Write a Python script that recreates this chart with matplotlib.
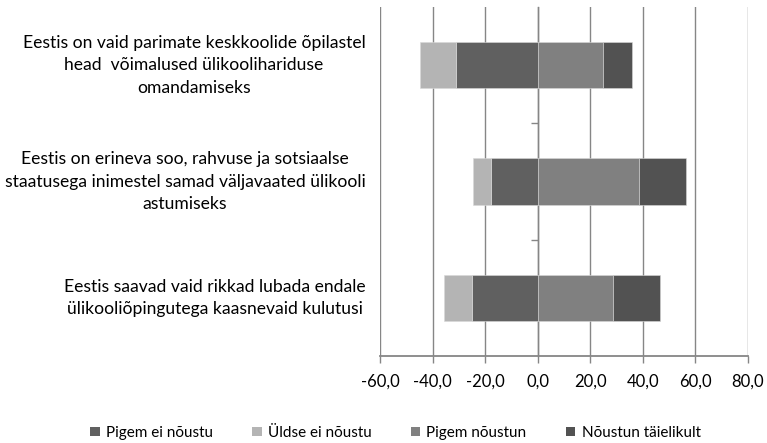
import numpy as np
import matplotlib
matplotlib.use("Agg")
import matplotlib.pyplot as plt
from matplotlib import transforms
from matplotlib.patches import Patch

plt.rcParams["font.family"] = ["Lato", "DejaVu Sans"]

# categories, top to bottom
categories = [
    "Eestis on vaid parimate keskkoolide õpilastel\nhead  võimalused ülikoolihariduse\nomandamiseks",
    "Eestis on erineva soo, rahvuse ja sotsiaalse\nstaatusega inimestel samad väljavaated ülikooli\nastumiseks",
    "Eestis saavad vaid rikkad lubada endale\nülikooliõpingutega kaasnevaid kulutusi",
]
pigem_ei = [31.1, 17.8, 25.1]
yldse_ei = [13.5, 6.7, 10.7]
pigem_noustun = [24.8, 38.7, 28.8]
taielikult = [11.0, 17.7, 17.6]
xticks = [-60, -40, -20, 0, 20, 40, 60, 80]
series_names = ["Pigem ei nõustu", "Üldse ei nõustu", "Pigem nõustun", "Nõustun täielikult"]
colors = ["#606060", "#b4b4b4", "#808080", "#525252"]

fig = plt.figure(figsize=(7.67, 4.43), dpi=100)
ax = fig.add_axes([380/767, 87/443, 368/767, 349/443])

ypos = np.arange(len(categories))[::-1] + 1
neg1 = -np.array(pigem_ei)
neg2 = -np.array(yldse_ei)
h = 0.4
ax.barh(ypos, neg1, height=h, color=colors[0], edgecolor="#d8d8d8", linewidth=0.4, zorder=3)
ax.barh(ypos, neg2, left=neg1, height=h, color=colors[1], edgecolor="#d8d8d8", linewidth=0.4, zorder=3)
ax.barh(ypos, pigem_noustun, height=h, color=colors[2], edgecolor="#d8d8d8", linewidth=0.4, zorder=3)
ax.barh(ypos, taielikult, left=pigem_noustun, height=h, color=colors[3], edgecolor="#d8d8d8", linewidth=0.4, zorder=3)

ax.set_xlim(-60, 80)
ax.set_ylim(0.5, 3.5)
ax.set_xticks(xticks)
ax.set_xticklabels(["{:.1f}".format(v).replace(".", ",") for v in xticks], fontsize=12)
ax.grid(axis="x", color="#868686", linewidth=1.0, zorder=0)

for s in ["top", "right"]:
    ax.spines[s].set_visible(False)
ax.spines["bottom"].set_color("#868686")
ax.spines["bottom"].set_linewidth(1.3)
ax.spines["left"].set_position(("data", 0))
ax.spines["left"].set_color("#868686")
ax.spines["left"].set_linewidth(1.0)
ax.set_yticks([1.5, 2.5])
ax.set_yticklabels([])
ax.tick_params(axis="y", length=5, color="#868686", width=1.0)
ax.tick_params(axis="x", length=5, color="#868686", width=1.0, pad=8, labelcolor="black")

trans = transforms.blended_transform_factory(ax.transAxes, ax.transData)
for y, lab in zip(ypos, categories):
    ax.text(-0.04, y, lab, transform=trans, ha="right", va="center",
            multialignment="center", fontsize=12.6, linespacing=1.5)

handles = [Patch(facecolor=c, label=n) for c, n in zip(colors, series_names)]
fig.legend(handles=handles, loc="center", bbox_to_anchor=(0.5 + 12/767, 10/443), ncol=4,
           frameon=False, fontsize=11, handlelength=0.6, handleheight=0.6,
           handletextpad=0.4, columnspacing=2.6)

fig.savefig("out.png", dpi=100)
